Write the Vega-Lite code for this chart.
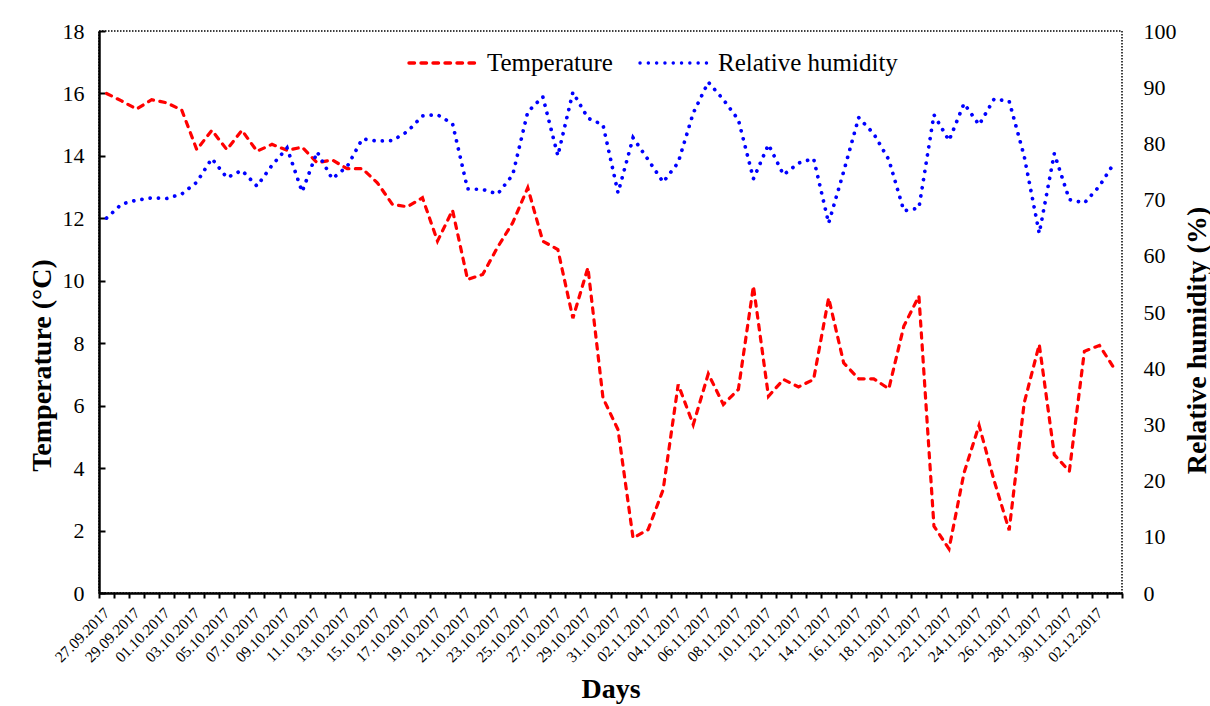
{
  "$schema": "https://vega.github.io/schema/vega-lite/v6.json",
  "width": 1023,
  "height": 562,
  "autosize": {"type": "none"},
  "padding": {"left": 99, "top": 31, "right": 88, "bottom": 113},
  "background": "white",
  "data": {
    "values": [
      {"date": "27.09.2017", "temp": 16.0, "rh": 66.7},
      {"date": "28.09.2017", "temp": 15.76, "rh": 69.2},
      {"date": "29.09.2017", "temp": 15.5, "rh": 69.9},
      {"date": "30.09.2017", "temp": 15.8, "rh": 70.3},
      {"date": "01.10.2017", "temp": 15.7, "rh": 70.2},
      {"date": "02.10.2017", "temp": 15.47, "rh": 71.0},
      {"date": "03.10.2017", "temp": 14.2, "rh": 73.1},
      {"date": "04.10.2017", "temp": 14.82, "rh": 77.3},
      {"date": "05.10.2017", "temp": 14.2, "rh": 73.9},
      {"date": "06.10.2017", "temp": 14.82, "rh": 75.2},
      {"date": "07.10.2017", "temp": 14.15, "rh": 72.4},
      {"date": "08.10.2017", "temp": 14.37, "rh": 76.1},
      {"date": "09.10.2017", "temp": 14.18, "rh": 79.2},
      {"date": "10.10.2017", "temp": 14.28, "rh": 71.4},
      {"date": "11.10.2017", "temp": 13.78, "rh": 78.5},
      {"date": "12.10.2017", "temp": 13.87, "rh": 73.7},
      {"date": "13.10.2017", "temp": 13.59, "rh": 75.9},
      {"date": "14.10.2017", "temp": 13.59, "rh": 80.8},
      {"date": "15.10.2017", "temp": 13.14, "rh": 80.4},
      {"date": "16.10.2017", "temp": 12.45, "rh": 80.5},
      {"date": "17.10.2017", "temp": 12.37, "rh": 82.1},
      {"date": "18.10.2017", "temp": 12.66, "rh": 84.9},
      {"date": "19.10.2017", "temp": 11.27, "rh": 85.1},
      {"date": "20.10.2017", "temp": 12.26, "rh": 83.5},
      {"date": "21.10.2017", "temp": 10.04, "rh": 71.9},
      {"date": "22.10.2017", "temp": 10.2, "rh": 71.8},
      {"date": "23.10.2017", "temp": 11.08, "rh": 71.0},
      {"date": "24.10.2017", "temp": 11.86, "rh": 74.4},
      {"date": "25.10.2017", "temp": 12.98, "rh": 85.6},
      {"date": "26.10.2017", "temp": 11.27, "rh": 88.3},
      {"date": "27.10.2017", "temp": 11.0, "rh": 77.8},
      {"date": "28.10.2017", "temp": 8.8, "rh": 89.1},
      {"date": "29.10.2017", "temp": 10.42, "rh": 84.5},
      {"date": "30.10.2017", "temp": 6.25, "rh": 83.3},
      {"date": "31.10.2017", "temp": 5.23, "rh": 71.2},
      {"date": "01.11.2017", "temp": 1.76, "rh": 81.0},
      {"date": "02.11.2017", "temp": 2.03, "rh": 77.1},
      {"date": "03.11.2017", "temp": 3.31, "rh": 73.1},
      {"date": "04.11.2017", "temp": 6.68, "rh": 76.6},
      {"date": "05.11.2017", "temp": 5.39, "rh": 85.4},
      {"date": "06.11.2017", "temp": 7.02, "rh": 90.9},
      {"date": "07.11.2017", "temp": 6.04, "rh": 87.8},
      {"date": "08.11.2017", "temp": 6.52, "rh": 84.2},
      {"date": "09.11.2017", "temp": 9.83, "rh": 73.7},
      {"date": "10.11.2017", "temp": 6.3, "rh": 79.8},
      {"date": "11.11.2017", "temp": 6.84, "rh": 74.4},
      {"date": "12.11.2017", "temp": 6.6, "rh": 76.5},
      {"date": "13.11.2017", "temp": 6.84, "rh": 77.3},
      {"date": "14.11.2017", "temp": 9.45, "rh": 65.8},
      {"date": "15.11.2017", "temp": 7.37, "rh": 75.0},
      {"date": "16.11.2017", "temp": 6.86, "rh": 84.6},
      {"date": "17.11.2017", "temp": 6.86, "rh": 81.7},
      {"date": "18.11.2017", "temp": 6.54, "rh": 77.1},
      {"date": "19.11.2017", "temp": 8.55, "rh": 68.0},
      {"date": "20.11.2017", "temp": 9.51, "rh": 68.5},
      {"date": "21.11.2017", "temp": 2.14, "rh": 85.1},
      {"date": "22.11.2017", "temp": 1.41, "rh": 80.5},
      {"date": "23.11.2017", "temp": 3.85, "rh": 87.1},
      {"date": "24.11.2017", "temp": 5.37, "rh": 83.3},
      {"date": "25.11.2017", "temp": 3.6, "rh": 87.9},
      {"date": "26.11.2017", "temp": 2.01, "rh": 87.5},
      {"date": "27.11.2017", "temp": 6.09, "rh": 77.7},
      {"date": "28.11.2017", "temp": 7.96, "rh": 64.0},
      {"date": "29.11.2017", "temp": 4.43, "rh": 78.2},
      {"date": "30.11.2017", "temp": 3.9, "rh": 70.0},
      {"date": "01.12.2017", "temp": 7.74, "rh": 69.4},
      {"date": "02.12.2017", "temp": 7.93, "rh": 72.4},
      {"date": "03.12.2017", "temp": 7.18, "rh": 76.6}
    ]
  },
  "encoding": {
    "x": {
      "field": "date",
      "type": "ordinal",
      "sort": null,
      "scale": {"type": "band", "paddingInner": 0, "paddingOuter": 0},
      "axis": {
        "title": "Days",
        "tickBand": "extent",
        "labelAngle": -45,
        "labelAlign": "right",
        "labelBaseline": "middle",
        "labelFont": "Liberation Serif",
        "labelFontSize": 15.5,
        "labelColor": "black",
        "labelPadding": 12,
        "labelOverlap": false,
        "labelExpr": "indexof(['27.09.2017','29.09.2017','01.10.2017','03.10.2017','05.10.2017','07.10.2017','09.10.2017','11.10.2017','13.10.2017','15.10.2017','17.10.2017','19.10.2017','21.10.2017','23.10.2017','25.10.2017','27.10.2017','29.10.2017','31.10.2017','02.11.2017','04.11.2017','06.11.2017','08.11.2017','10.11.2017','12.11.2017','14.11.2017','16.11.2017','18.11.2017','20.11.2017','22.11.2017','24.11.2017','26.11.2017','28.11.2017','30.11.2017','02.12.2017'], datum.value) >= 0 ? datum.value : ''",
        "tickSize": 5,
        "tickWidth": 2,
        "tickColor": "black",
        "domainColor": "black",
        "domainWidth": 2.5,
        "grid": false,
        "titleFont": "Liberation Serif",
        "titleFontSize": 28,
        "titleFontWeight": "bold",
        "titleColor": "black",
        "titleBaseline": "alphabetic",
        "titleY": 104
      }
    }
  },
  "layer": [
    {
      "mark": {"type": "line", "strokeWidth": 3.2, "strokeCap": "round", "interpolate": "linear"},
      "encoding": {
        "y": {
          "field": "temp",
          "type": "quantitative",
          "scale": {"domain": [0, 18], "nice": false},
          "axis": {
            "title": "Temperature (°C)",
            "values": [0, 2, 4, 6, 8, 10, 12, 14, 16, 18],
            "grid": false,
            "tickSize": -6,
            "tickWidth": 2,
            "tickColor": "black",
            "domainColor": "black",
            "domainWidth": 2.5,
            "labelFont": "Liberation Serif",
            "labelFontSize": 22,
            "labelColor": "black",
            "labelPadding": 21,
            "titleFont": "Liberation Serif",
            "titleFontSize": 28,
            "titleFontWeight": "bold",
            "titleColor": "black",
            "titleAngle": 270,
            "titleAlign": "center",
            "titleBaseline": "middle",
            "titleX": -57,
            "titleY": 334
          }
        },
        "color": {
          "datum": "Temperature",
          "type": "nominal",
          "scale": {"domain": ["Temperature", "Relative humidity"], "range": ["#ff0000", "#0000ff"]},
          "legend": {
            "encode": {"symbols": {"update": {"strokeCap": {"value": "round"}, "strokeWidth": {"value": 3.4}}}}
          }
        },
        "strokeDash": {
          "datum": "Temperature",
          "type": "nominal",
          "scale": {"domain": ["Temperature", "Relative humidity"], "range": [[5.5, 6.5], [0.1, 8.2]]},
          "legend": {
            "encode": {"symbols": {"update": {"strokeCap": {"value": "round"}, "strokeWidth": {"value": 3.4}}}}
          }
        }
      }
    },
    {
      "mark": {"type": "line", "strokeWidth": 3.7, "strokeCap": "round", "interpolate": "linear"},
      "encoding": {
        "y": {
          "field": "rh",
          "type": "quantitative",
          "scale": {"domain": [0, 100], "nice": false},
          "axis": {
            "title": "Relative humidity (%)",
            "orient": "right",
            "values": [0, 10, 20, 30, 40, 50, 60, 70, 80, 90, 100],
            "grid": false,
            "ticks": false,
            "domain": false,
            "labelFont": "Liberation Serif",
            "labelFontSize": 22,
            "labelColor": "black",
            "labelPadding": 21,
            "titleFont": "Liberation Serif",
            "titleFontSize": 28,
            "titleFontWeight": "bold",
            "titleColor": "black",
            "titleAngle": 270,
            "titleAlign": "center",
            "titleBaseline": "middle",
            "titleX": 75,
            "titleY": 309
          }
        },
        "color": {"datum": "Relative humidity", "type": "nominal"},
        "strokeDash": {"datum": "Relative humidity", "type": "nominal"}
      }
    }
  ],
  "resolve": {"scale": {"y": "independent"}},
  "config": {
    "view": {"stroke": "black", "strokeDash": [1.5, 1.5], "strokeWidth": 1.5},
    "legend": {
      "orient": "none",
      "legendX": 308,
      "legendY": -5,
      "direction": "horizontal",
      "title": null,
      "symbolType": "stroke",
      "symbolSize": 4900,
      "symbolStrokeWidth": 3.4,
      "labelFont": "Liberation Serif",
      "labelFontSize": 25,
      "labelColor": "black",
      "labelOffset": 6,
      "columnPadding": 20,
      "padding": 0,
      "labelLimit": 400
    }
  }
}
